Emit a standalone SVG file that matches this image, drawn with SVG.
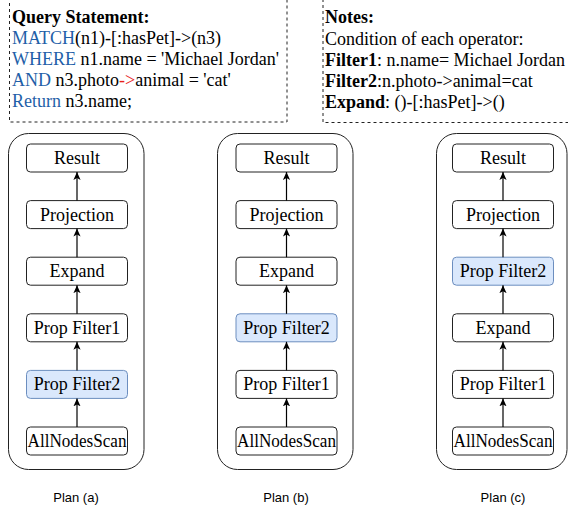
<svg xmlns="http://www.w3.org/2000/svg" width="568" height="511" viewBox="0 0 568 511">
  <style>
    .note { fill: none; stroke: #222; stroke-width: 1; stroke-dasharray: 3 3; }
    .txt { font-family: "Liberation Serif", "Times New Roman", serif; font-size: 18px; fill: #000; }
    .kw { fill: #1f5fa8; }
    .red { fill: #e8201a; }
    .b { font-weight: bold; }
    .plan { fill: #fff; stroke: #222; stroke-width: 1; }
    .op { fill: #fff; stroke: #222; stroke-width: 1; }
    .hl { fill: #dae8fc; stroke: #6c8ebf; stroke-width: 1; }
    .lbl { font-family: "Liberation Serif", "Times New Roman", serif; font-size: 18px; fill: #000; text-anchor: middle; }
    .cap { font-family: "Liberation Sans", Arial, sans-serif; font-size: 13px; fill: #000; text-anchor: middle; }
    .edge { stroke: #000; stroke-width: 1.2; fill: none; marker-end: url(#arr); }
  </style>
  <defs>
    <marker id="arr" viewBox="0 0 10 10" refX="10" refY="5" markerWidth="8" markerHeight="8" markerUnits="userSpaceOnUse" orient="auto">
      <path d="M0,0.5 L10,5 L0,9.5 L2.5,5 z" fill="#000"/>
    </marker>
  </defs>

  <!-- query statement panel -->
  <g id="query">
    <rect class="note" x="9.5" y="-5" width="277.5" height="127"/>
    <text class="txt" x="12" y="22.5"><tspan class="b">Query Statement:</tspan></text>
    <text class="txt" x="12" y="43.5"><tspan class="kw">MATCH</tspan>(n1)-[:hasPet]-&gt;(n3)</text>
    <text class="txt" x="12" y="64.5"><tspan class="kw">WHERE</tspan> n1.name = 'Michael Jordan'</text>
    <text class="txt" x="12" y="85.5"><tspan class="kw">AND</tspan> n3.photo<tspan class="red">-&gt;</tspan>animal = 'cat'</text>
    <text class="txt" x="12" y="106.5"><tspan class="kw">Return</tspan> n3.name;</text>
  </g>

  <!-- notes panel -->
  <g id="notes">
    <rect class="note" x="323" y="-5" width="260" height="127.5"/>
    <text class="txt" x="325" y="23"><tspan class="b">Notes:</tspan></text>
    <text class="txt" x="325" y="44.5">Condition of each operator:</text>
    <text class="txt" x="325" y="65.5"><tspan class="b">Filter1</tspan>: n.name= Michael Jordan</text>
    <text class="txt" x="325" y="86.5"><tspan class="b">Filter2</tspan>:n.photo-&gt;animal=cat</text>
    <text class="txt" x="325" y="107.5"><tspan class="b">Expand</tspan>: ()-[:hasPet]-&gt;()</text>
  </g>

  <!-- plan containers -->
  <g id="planA">
    <rect class="plan" x="8.5" y="133.5" width="135.5" height="336" rx="20"/>
    <text class="cap" x="76" y="502">Plan (a)</text>
  </g>
  <g id="planB">
    <rect class="plan" x="217.5" y="133.5" width="135.5" height="336" rx="20"/>
    <text class="cap" x="286" y="502">Plan (b)</text>
  </g>
  <g id="planC">
    <rect class="plan" x="436.5" y="133.5" width="130.5" height="336" rx="20"/>
    <text class="cap" x="503" y="502">Plan (c)</text>
  </g>

  <!-- plan (a) operators -->
  <g id="a-result"><rect class="op" x="26.5" y="144" width="101" height="28" rx="4"/><text class="lbl" x="77" y="164">Result</text></g>
  <g id="a-projection"><rect class="op" x="26.5" y="200.6" width="101" height="28" rx="4"/><text class="lbl" x="77" y="220.6">Projection</text></g>
  <g id="a-expand"><rect class="op" x="26.5" y="257.2" width="101" height="28" rx="4"/><text class="lbl" x="77" y="277.2">Expand</text></g>
  <g id="a-filter1"><rect class="op" x="26.5" y="313.8" width="101" height="28" rx="4"/><text class="lbl" x="77" y="333.8">Prop Filter1</text></g>
  <g id="a-filter2"><rect class="hl" x="26.5" y="370.4" width="101" height="28" rx="4"/><text class="lbl" x="77" y="390.4">Prop Filter2</text></g>
  <g id="a-scan"><rect class="op" x="26.5" y="427" width="101" height="28" rx="4"/><text class="lbl" x="77" y="447" textLength="99" lengthAdjust="spacingAndGlyphs">AllNodesScan</text></g>

  <!-- plan (b) operators -->
  <g id="b-result"><rect class="op" x="236" y="144" width="101" height="28" rx="4"/><text class="lbl" x="286.5" y="164">Result</text></g>
  <g id="b-projection"><rect class="op" x="236" y="200.6" width="101" height="28" rx="4"/><text class="lbl" x="286.5" y="220.6">Projection</text></g>
  <g id="b-expand"><rect class="op" x="236" y="257.2" width="101" height="28" rx="4"/><text class="lbl" x="286.5" y="277.2">Expand</text></g>
  <g id="b-filter2"><rect class="hl" x="236" y="313.8" width="101" height="28" rx="4"/><text class="lbl" x="286.5" y="333.8">Prop Filter2</text></g>
  <g id="b-filter1"><rect class="op" x="236" y="370.4" width="101" height="28" rx="4"/><text class="lbl" x="286.5" y="390.4">Prop Filter1</text></g>
  <g id="b-scan"><rect class="op" x="236" y="427" width="101" height="28" rx="4"/><text class="lbl" x="286.5" y="447" textLength="99" lengthAdjust="spacingAndGlyphs">AllNodesScan</text></g>

  <!-- plan (c) operators -->
  <g id="c-result"><rect class="op" x="452.5" y="144" width="101" height="28" rx="4"/><text class="lbl" x="503" y="164">Result</text></g>
  <g id="c-projection"><rect class="op" x="452.5" y="200.6" width="101" height="28" rx="4"/><text class="lbl" x="503" y="220.6">Projection</text></g>
  <g id="c-filter2"><rect class="hl" x="452.5" y="257.2" width="101" height="28" rx="4"/><text class="lbl" x="503" y="277.2">Prop Filter2</text></g>
  <g id="c-expand"><rect class="op" x="452.5" y="313.8" width="101" height="28" rx="4"/><text class="lbl" x="503" y="333.8">Expand</text></g>
  <g id="c-filter1"><rect class="op" x="452.5" y="370.4" width="101" height="28" rx="4"/><text class="lbl" x="503" y="390.4">Prop Filter1</text></g>
  <g id="c-scan"><rect class="op" x="452.5" y="427" width="101" height="28" rx="4"/><text class="lbl" x="503" y="447" textLength="99" lengthAdjust="spacingAndGlyphs">AllNodesScan</text></g>

  <!-- data flow edges, bottom operator feeds the one above -->
  <g id="edges">
    <line class="edge" x1="77" y1="200.6" x2="77" y2="172"/>
    <line class="edge" x1="77" y1="257.2" x2="77" y2="228.6"/>
    <line class="edge" x1="77" y1="313.8" x2="77" y2="285.2"/>
    <line class="edge" x1="77" y1="370.4" x2="77" y2="341.8"/>
    <line class="edge" x1="77" y1="427" x2="77" y2="398.4"/>

    <line class="edge" x1="286.5" y1="200.6" x2="286.5" y2="172"/>
    <line class="edge" x1="286.5" y1="257.2" x2="286.5" y2="228.6"/>
    <line class="edge" x1="286.5" y1="313.8" x2="286.5" y2="285.2"/>
    <line class="edge" x1="286.5" y1="370.4" x2="286.5" y2="341.8"/>
    <line class="edge" x1="286.5" y1="427" x2="286.5" y2="398.4"/>

    <line class="edge" x1="503" y1="200.6" x2="503" y2="172"/>
    <line class="edge" x1="503" y1="257.2" x2="503" y2="228.6"/>
    <line class="edge" x1="503" y1="313.8" x2="503" y2="285.2"/>
    <line class="edge" x1="503" y1="370.4" x2="503" y2="341.8"/>
    <line class="edge" x1="503" y1="427" x2="503" y2="398.4"/>
  </g>
</svg>
